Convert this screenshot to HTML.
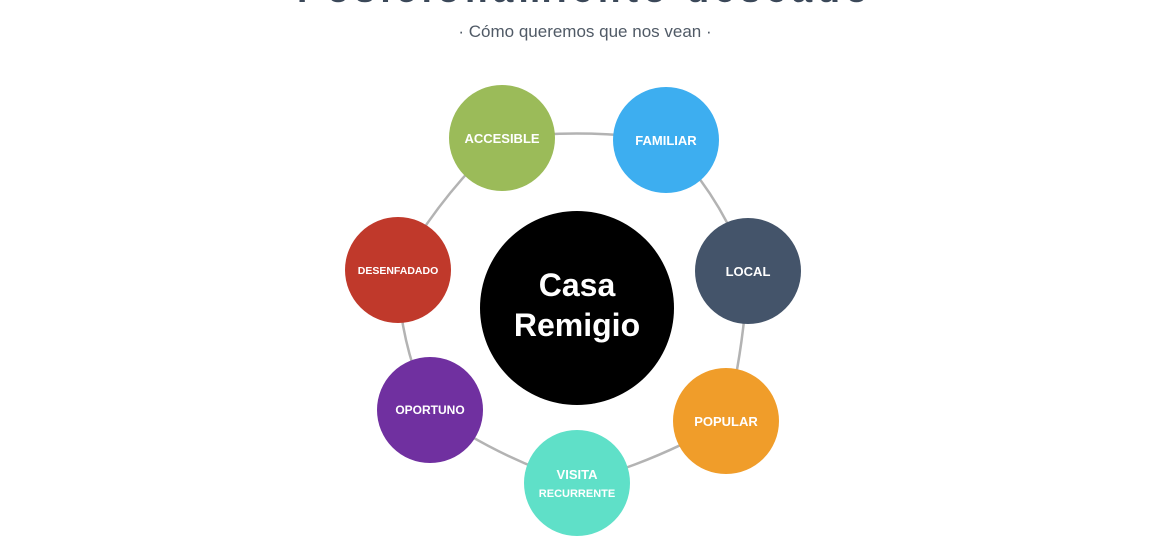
<!DOCTYPE html>
<html><head><meta charset="utf-8"><style>
html,body{margin:0;padding:0;background:#fff;width:1170px;height:540px;overflow:hidden;position:relative;font-family:"Liberation Sans",sans-serif}
.t{position:absolute;left:0;width:1170px;text-align:center;top:-31px;font-size:37px;letter-spacing:5.2px;color:#3b4859;font-weight:bold}
.s{position:absolute;left:0;width:1170px;text-align:center;top:22px;font-size:17px;color:#505a66}
</style></head><body>
<div class="t">Posicionamiento deseado</div>
<div class="s">· Cómo queremos que nos vean ·</div>
<svg width="1170" height="540" style="position:absolute;left:0;top:0">
<g fill="none" stroke="#b3b3b3" stroke-width="2.5">
<path d="M502 138 Q584 128 666 140"/>
<path d="M666 140 Q722 196 748 271"/>
<path d="M748 271 Q744 350 726 421"/>
<path d="M726 421 Q656 462 577 483"/>
<path d="M577 483 Q496 457 430 410"/>
<path d="M430 410 Q398 340 398 270"/>
<path d="M398 270 Q440 195 502 138"/>
</g>
<circle cx="577" cy="308" r="97" fill="#000"/>
<circle cx="502" cy="138" r="53" fill="#9bbb59"/>
<circle cx="666" cy="140" r="53" fill="#3daef0"/>
<circle cx="748" cy="271" r="53" fill="#44546a"/>
<circle cx="726" cy="421" r="53" fill="#f09d2a"/>
<circle cx="577" cy="483" r="53" fill="#5fe0c8"/>
<circle cx="430" cy="410" r="53" fill="#7030a0"/>
<circle cx="398" cy="270" r="53" fill="#c0392b"/>
<g fill="#fff" font-family="Liberation Sans, sans-serif" font-weight="bold" text-anchor="middle">
<text x="577" y="296" font-size="32">Casa</text>
<text x="577" y="336" font-size="32">Remigio</text>
<text x="502" y="143" font-size="13">ACCESIBLE</text>
<text x="666" y="145" font-size="13">FAMILIAR</text>
<text x="748" y="276" font-size="13">LOCAL</text>
<text x="726" y="426" font-size="13">POPULAR</text>
<text x="577" y="479" font-size="13">VISITA</text>
<text x="577" y="497" font-size="11">RECURRENTE</text>
<text x="430" y="414" font-size="12">OPORTUNO</text>
<text x="398" y="274" font-size="10.5">DESENFADADO</text>
</g>
</svg>
</body></html>
